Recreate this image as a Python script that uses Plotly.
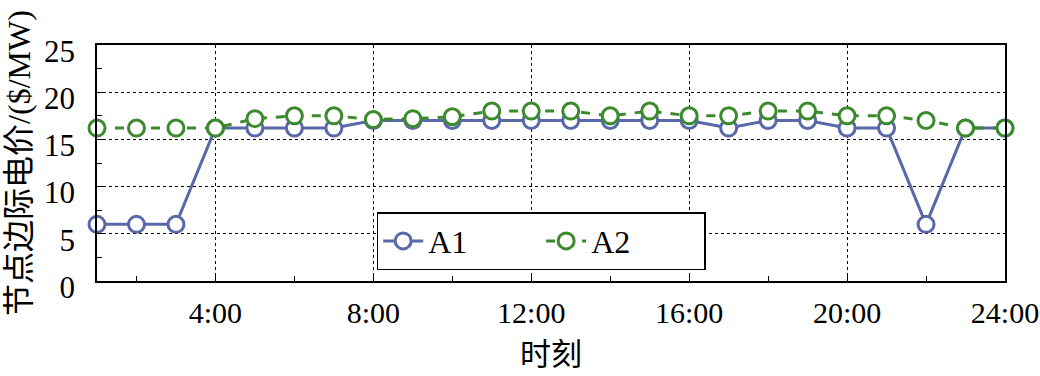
import plotly.graph_objects as go

hours = list(range(1, 25))
a1 = [6.0, 6.0, 6.0, 16.2, 16.2, 16.2, 16.2, 17.0, 17.0, 17.0, 17.0, 17.0,
      17.0, 17.0, 17.0, 17.0, 16.2, 17.0, 17.0, 16.2, 16.2, 6.0, 16.2, 16.2]
a2 = [16.2, 16.2, 16.2, 16.2, 17.2, 17.5, 17.5, 17.1, 17.2, 17.4, 18.0, 18.0,
      18.0, 17.5, 18.0, 17.5, 17.5, 18.0, 18.0, 17.5, 17.5, 17.0, 16.2, 16.2]
xtick_vals = [4, 8, 12, 16, 20, 24]
xtick_text = ["4:00", "8:00", "12:00", "16:00", "20:00", "24:00"]

BLUE = "#5868a8"
GREEN = "#3b8a2c"
FONT = "Liberation Serif, Noto Sans CJK SC, serif"

fig = go.Figure()
fig.add_trace(go.Scatter(
    x=hours, y=a1, name="A1", mode="lines+markers", cliponaxis=False,
    line=dict(color=BLUE, width=3),
    marker=dict(symbol="circle", size=16, color="white",
                line=dict(color=BLUE, width=3)),
))
fig.add_trace(go.Scatter(
    x=hours, y=a2, name="A2", mode="lines+markers", cliponaxis=False,
    line=dict(color=GREEN, width=3, dash="dash"),
    marker=dict(symbol="circle", size=16, color="white",
                line=dict(color=GREEN, width=3)),
))

fig.update_layout(
    width=1040, height=376,
    margin=dict(l=97, r=35, t=45, b=95),
    paper_bgcolor="white", plot_bgcolor="white",
    font=dict(family=FONT, size=31, color="black"),
    showlegend=True,
    legend=dict(
        orientation="h", x=0.308, y=0.292, xanchor="left", yanchor="top",
        bgcolor="white", bordercolor="black", borderwidth=1.5,
        font=dict(size=32), entrywidth=108, itemwidth=40,
    ),
    xaxis=dict(
        range=[1, 24], tickvals=xtick_vals, ticktext=xtick_text,
        automargin=False, ticklabeloverflow="allow",
        ticks="inside", ticklen=8, tickwidth=1, tickcolor="black",
        ticklabelstandoff=4, tickfont=dict(size=30),
        minor=dict(dtick=2, tick0=0, ticks="inside", ticklen=5, tickcolor="black", showgrid=False),
        showline=True, linecolor="black", linewidth=1.5, mirror=True,
        showgrid=True, gridcolor="black", griddash="dot", gridwidth=1,
        zeroline=False,
        title=dict(text="时刻", font=dict(size=31), standoff=16),
    ),
    yaxis=dict(
        range=[0, 25], dtick=5, tick0=0,
        automargin=False, ticklabeloverflow="allow",
        ticks="inside", ticklen=8, tickwidth=1, tickcolor="black",
        ticklabelstandoff=14, ticklabelshift=6, tickfont=dict(size=31),
        minor=dict(dtick=2.5, tick0=0, ticks="inside", ticklen=5, tickcolor="black", showgrid=False),
        showline=True, linecolor="black", linewidth=1.5, mirror=True,
        showgrid=True, gridcolor="black", griddash="dot", gridwidth=1,
        zeroline=False,
        title=dict(text="节点边际电价/($/MW)", font=dict(size=32), standoff=4),
    ),
)

fig.write_html("out.html")
